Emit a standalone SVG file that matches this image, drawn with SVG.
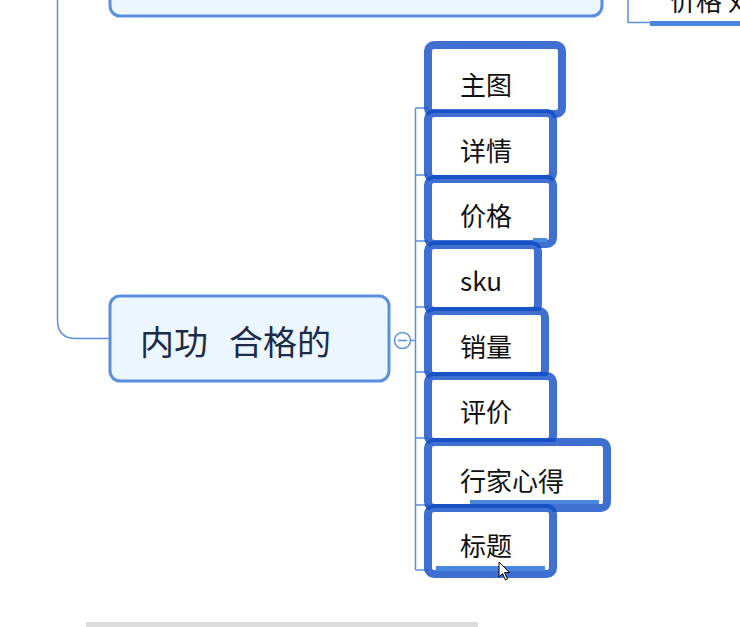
<svg xmlns="http://www.w3.org/2000/svg" width="740" height="627" viewBox="0 0 740 627">
<style>
.conn{fill:none;stroke:#5b8fdc;stroke-width:1.5}
.main{fill:#ebf6fe;stroke:#5a8fdc;stroke-width:3}
.child{fill:#ffffff;stroke:#0f4bc4;stroke-opacity:0.8;stroke-width:8}
.ct{font-family:"Noto Sans CJK SC","Noto Sans",sans-serif;font-size:26px;fill:#111111}
.mt{font-family:"Noto Sans CJK SC","Noto Sans",sans-serif;font-size:34px;fill:#1b2b48}
.ul{fill:#4a86de}
</style>
<rect width="740" height="627" fill="#ffffff"/>
<g id="connectors">
<path class="conn" d="M57.500 0 V320 Q57.500 338.500 76 338.500 H110"/>
<path class="conn" d="M411 340.500 H415.500 M415.500 108 V570 M415.500 108 H428 M415.500 175 H428 M415.500 241 H428 M415.500 307 H428 M415.500 372 H428 M415.500 438 H428 M415.500 505 H428 M415.500 570 H428"/>
<path class="conn" d="M628 0 V22.500 H650"/>
</g>
<g id="top-node">
<rect class="main" x="110" y="-30" width="492" height="46" rx="10"/>
</g>
<g id="top-right-node">
<text class="ct" x="670" y="11">价格 对</text>
<rect class="ul" x="650" y="21" width="90" height="5"/>
</g>
<g id="main-node">
<rect class="main" x="110" y="296" width="279" height="85" rx="10"/>
<text class="mt" x="140" y="355">内功<tspan x="229">合格的</tspan></text>
<circle cx="402.500" cy="340.500" r="8" fill="#ffffff" stroke="#5b8fdc" stroke-width="1.5"/>
<path d="M398 340.500 H407" stroke="#5b8fdc" stroke-width="1.5"/>
</g>
<g id="n-zhutu"><rect class="child" x="428" y="45" width="134" height="69" rx="6"/><text class="ct" x="460" y="95">主图</text></g>
<g id="n-xiangqing"><rect class="child" x="428" y="113" width="125" height="66" rx="6"/><text class="ct" x="460" y="161">详情</text></g>
<g id="n-jiage"><rect class="child" x="428" y="179" width="125" height="65" rx="6"/><text class="ct" x="460" y="226">价格</text><rect class="ul" x="533" y="238" width="14" height="4"/></g>
<g id="n-sku"><rect class="child" x="428" y="245" width="110" height="66" rx="6"/><text class="ct" x="460" y="291">sku</text></g>
<g id="n-xiaoliang"><rect class="child" x="428" y="311" width="117" height="65" rx="6"/><text class="ct" x="460" y="357">销量</text></g>
<g id="n-pingjia"><rect class="child" x="428" y="376" width="125" height="66" rx="6"/><text class="ct" x="460" y="422">评价</text></g>
<g id="n-hangjia"><rect class="child" x="428" y="442" width="179" height="66" rx="6"/><text class="ct" x="460" y="491">行家心得</text><rect class="ul" x="470" y="500" width="129" height="4"/></g>
<g id="n-biaoti"><rect class="child" x="428" y="508" width="125" height="66" rx="6"/><text class="ct" x="460" y="556">标题</text><rect class="ul" x="436" y="566" width="109" height="5"/></g>
<g id="cursor">
<path d="M499 562 V577 L502.500 573.500 L505.500 580 L507.500 579 L504.500 572.500 L509.500 572.500 Z" fill="#ffffff" stroke="#000000" stroke-width="1" stroke-linejoin="round"/>
</g>
<rect x="86" y="622" width="392" height="5" fill="#dcdcdc"/>
</svg>
